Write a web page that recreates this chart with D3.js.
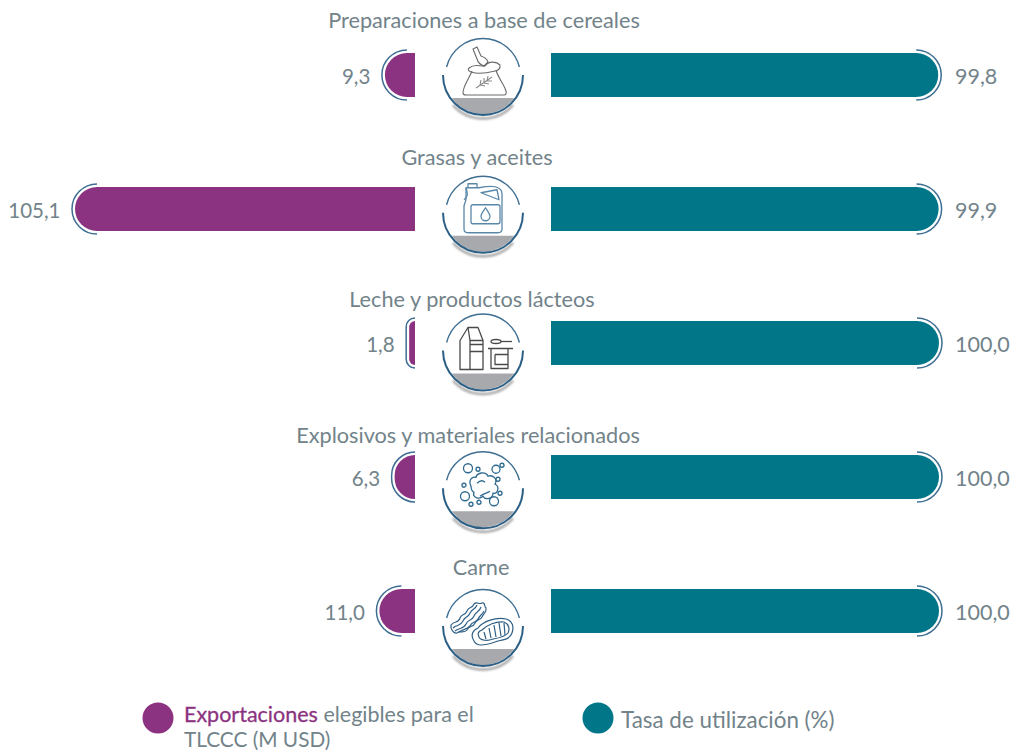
<!DOCTYPE html>
<html><head><meta charset="utf-8">
<script src="https://cdn.jsdelivr.net/npm/d3@7"></script>
<style>html,body{margin:0;padding:0;background:#fff;overflow:hidden}svg{display:block}text{font-family:Lato,"Open Sans",sans-serif;fill:#72838a}</style>
</head><body><div id="c"></div>
<script>
const categories=["Preparaciones a base de cereales","Grasas y aceites","Leche y productos lácteos","Explosivos y materiales relacionados","Carne"];
const exportaciones=[9.3,105.1,1.8,6.3,11.0];
const utilizacion=[99.8,99.9,100.0,100.0,100.0];
const iconKeys=["sack","jug","milk","bubbles","meat"];
const legendExport=["Exportaciones"," elegibles para el","TLCCC (M USD)"];
const legendUse="Tasa de utilización (%)";

// layout only
const W=1011,H=752,PURPLE="#8b3380",TEAL="#007688",ARC="#3e6e91";
const labelLayout=[{x:484,y:28},{x:477,y:165},{x:472,y:307},{x:468,y:443},{x:481,y:575}];

const svg=d3.select("#c").append("svg").attr("width",W).attr("height",H);
const defs=svg.append("defs");
defs.append("filter").attr("id","soft").attr("x","-20%").attr("y","-50%").attr("width","140%").attr("height","200%")
  .append("feGaussianBlur").attr("stdDeviation",1.3);

const y=d3.scalePoint().domain(categories).range([75,611]);
const yIcon=d3.scalePoint().domain(categories).range([76,627]);
const xL=d3.scaleLinear().domain([0,105.1]).range([415,75]);
const xR=d3.scaleLinear().domain([0,100]).range([551,939]);
const fmt=d3.formatLocale({decimal:",",thousands:".",grouping:[3],currency:["",""]}).format(".1f");
const BAR=44,GAP=3;

function leftBar(x0,x1,cy){const w=x1-x0,r=Math.min(BAR/2,w),t=cy-BAR/2,b=cy+BAR/2;
  return `M${x1},${t}H${x0+r}A${r},${r} 0 0 0 ${x0},${t+r}V${b-r}A${r},${r} 0 0 0 ${x0+r},${b}H${x1}Z`;}
function rightBar(x0,x1,cy){const r=BAR/2,t=cy-BAR/2,b=cy+BAR/2;
  return `M${x0},${t}H${x1-r}A${r},${r} 0 0 1 ${x1},${t+r}V${b-r}A${r},${r} 0 0 1 ${x1-r},${b}H${x0}Z`;}
function leftArc(x0,x1,cy){const w=x1-x0,r=Math.min(BAR/2,w),R=r+GAP,cx=x0+r,t=cy-BAR/2-GAP,b=cy+BAR/2+GAP;
  return `M${cx},${t}A${R},${R} 0 0 0 ${cx-R},${t+R}V${b-R}A${R},${R} 0 0 0 ${cx},${b}`;}
function rightArc(x1,cy){const r=BAR/2,R=r+GAP,cx=x1-r,t=cy-BAR/2-GAP,b=cy+BAR/2+GAP;
  return `M${cx},${t}A${R},${R} 0 0 1 ${cx+R},${t+R}V${b-R}A${R},${R} 0 0 1 ${cx},${b}`;}

const rows=svg.selectAll("g.row").data(categories).join("g").attr("class","row");
rows.append("text").text(d=>d).attr("text-anchor","middle").attr("font-size",21.7)
  .attr("x",(d,i)=>labelLayout[i].x).attr("y",(d,i)=>labelLayout[i].y);
rows.append("path").attr("fill",PURPLE).attr("d",(d,i)=>leftBar(xL(exportaciones[i]),xL(0),y(d)));
rows.append("path").attr("fill","none").attr("stroke",ARC).attr("stroke-width",1.5)
  .attr("d",(d,i)=>leftArc(xL(exportaciones[i]),xL(0),y(d)));
rows.append("path").attr("fill",TEAL).attr("d",(d,i)=>rightBar(xR(0),xR(utilizacion[i]),y(d)));
rows.append("path").attr("fill","none").attr("stroke",ARC).attr("stroke-width",1.5)
  .attr("d",(d,i)=>rightArc(xR(utilizacion[i]),y(d)));
rows.append("text").text((d,i)=>fmt(exportaciones[i])).attr("text-anchor","end").attr("font-size",20.5)
  .attr("x",(d,i)=>xL(exportaciones[i])-14.5).attr("y",d=>y(d)+8.5);
rows.append("text").text((d,i)=>fmt(utilizacion[i])).attr("font-size",21.5)
  .attr("x",955).attr("y",d=>y(d)+8.5);

// icon badges
const CX=483;
const badge=rows.append("g").attr("transform",d=>`translate(${CX},${yIcon(d)})`);
badge.append("path").attr("fill","none").attr("stroke","#a0a0a0").attr("stroke-width",2.5).attr("filter","url(#soft)")
  .attr("d","M-30,26A40,40 0 0 0 30,26").attr("transform","translate(0,3)");
badge.append("path").attr("fill","#a7a9ac").attr("d",(()=>{const r=38,yc=22,dx=Math.sqrt(r*r-yc*yc);return `M${-dx},${yc}H${dx}A${r},${r} 0 0 1 ${-dx},${yc}Z`;})());
badge.append("path").attr("fill","none").attr("stroke",ARC).attr("stroke-width",1.4)
  .attr("d","M-36.4,-9A37.5,37.5 0 0 1 36.4,-9");
badge.append("path").attr("fill","none").attr("stroke","#2c5f85").attr("stroke-width",2)
  .attr("d","M-40,-1A40,40 0 0 0 40,-1");

const icons={
 sack(g){const s=g.append("g").attr("fill","none").attr("stroke","#6a6a6a").attr("stroke-width",1.1).attr("stroke-linejoin","round");
  s.append("path").attr("d","M-11,-5C-14,3 -20,10 -20,17Q-20,19 -17,19L21,19Q24,19 23,15C21,8 15,2 13,-6");
  s.append("path").attr("d","M-14,-8C-8,-13 -2,-9 2,-10C6,-16 14,-14 17,-11C18,-7 14,-5 12,-5C4,-3 -6,-2 -12,-4C-15,-5 -15,-7 -14,-8");
  s.append("path").attr("d","M-10,-27L-6,-29L-2,-20C1,-19 4,-17 5,-14L1,-10C-2,-11 -5,-13 -6,-17Z");
  s.append("path").attr("d","M-7,12L9,1M-3,9L-2,4M1,7L1,2M4,5L5,0M-3,9L2,10M1,7L6,8M4,5L9,5").attr("stroke","#8a8a8a");
 },
 jug(g){const s=g.append("g").attr("fill","none").attr("stroke","#5a87a8").attr("stroke-width",1.3).attr("stroke-linejoin","round");
  s.append("path").attr("d","M-15,-26V-30H-6V-26");
  s.append("path").attr("d","M-17,-26H-4C6,-28 12,-28 15,-26Q19,-24 19,-20V15Q19,19 15,19H-15Q-19,19 -19,15V-8L-17,-14Z");
  s.append("path").attr("d","M-2,-21L14,-24L16,-14Z");
  s.append("path").attr("d","M-19,-14C-15,-17 -15,-19 -17,-26");
  s.append("rect").attr("x",-12).attr("y",-9).attr("width",29).attr("height",19).attr("rx",2);
  s.append("path").attr("d","M2.5,-6C5,-2 7,0 7,2.5A4.5,4.5 0 0 1 -2,2.5C-2,0 0,-2 2.5,-6Z");
 },
 milk(g){const s=g.append("g").attr("fill","none").attr("stroke","#4a4a4a").attr("stroke-width",1.3).attr("stroke-linejoin","round");
  s.append("path").attr("d","M-23,-11L-15,-24H-5L0,-11V18H-23Z");
  s.append("path").attr("d","M-15,-24L-13,-11V18M-13,-11H0M-13,-7H0M-13,0H0");
  s.append("ellipse").attr("cx",13).attr("cy",-10).attr("rx",5).attr("ry",2);
  s.append("path").attr("d","M18,-10H29");
  s.append("path").attr("d","M5,-3H30M8,-3V17H25V-3M12,3H25M12,3V13H25");
 },
 bubbles(g){const s=g.append("g").attr("fill","none").attr("stroke","#2f6a8f").attr("stroke-width",1.3);
  s.append("path").attr("d","M-12,-3C-15,-9 -11,-13 -7,-12C-6,-17 3,-18 5,-13C10,-15 15,-10 12,-5C17,-3 15,5 10,4C10,10 2,11 0,7C-4,11 -11,8 -9,3C-11,2 -12,0 -12,-3Z");
  s.append("path").attr("d","M-3,7C1,4 4,4 7,2M-6,-6C-3,-9 0,-9 2,-7");
  [[-15,-21,4.5],[-5,-20,2],[13,-20,4],[19,-24,2],[15,-10,2],[-19,-4,2],[-18,7,4.5],[-12,15,2],[-4,13,2],[11,12,4.5],[17,4,2]]
   .forEach(c=>s.append("circle").attr("cx",c[0]).attr("cy",c[1]).attr("r",c[2]));
 },
 meat(g){const s=g.append("g").attr("fill","none").attr("stroke","#2f5f85").attr("stroke-width",1.2).attr("stroke-linejoin","round");
  s.append("path").attr("d","M-32,-2C-28,-7 -25,-3 -23,-9C-21,-14 -18,-11 -16,-16C-14,-21 -11,-18 -9,-23C-6,-26 -4,-22 -1,-24C2,-25 1,-21 3,-19C4,-15 1,-14 -1,-10C-3,-6 -6,-9 -8,-4C-10,1 -14,-2 -16,3C-19,7 -24,3 -26,6C-29,7 -33,2 -32,-2Z");
  s.append("path").attr("d","M-30,1C-26,-3 -23,0 -20,-6C-18,-11 -15,-9 -13,-14C-10,-19 -8,-17 -6,-22");
  s.append("path").attr("d","M-28,4C-23,0 -20,3 -17,-3C-15,-8 -11,-6 -9,-11C-7,-16 -4,-14 -2,-20");
  s.append("path").attr("d","M-24,5C-20,2 -17,3 -13,-1C-11,-6 -7,-4 -5,-8C-3,-12 -1,-12 1,-16");
  s.append("path").attr("d","M-9,14C-13,8 -10,3 -5,1C0,-6 13,-10 23,-8C30,-6 31,0 29,6C27,12 21,13 15,14C9,16 4,18 -2,18C-5,18 -8,16 -9,14Z");
  s.append("path").attr("d","M-4,10C-6,6 -4,4 -1,3C4,-2 13,-6 21,-5C26,-3 27,2 25,6C22,10 15,11 10,12C5,14 -2,14 -4,10Z");
  s.append("path").attr("d","M1,5L3,12M6,1L8,11M11,-2L13,10M16,-4L18,9M21,-4L22,8");
 }
};
badge.each(function(d,i){icons[iconKeys[i]](d3.select(this));});

// legend
const lg=svg.append("g");
lg.append("circle").attr("cx",158).attr("cy",718).attr("r",15.5).attr("fill",PURPLE);
lg.append("circle").attr("cx",598).attr("cy",718).attr("r",15.5).attr("fill",TEAL);
const t1=lg.append("text").attr("x",184).attr("y",721.5).attr("font-size",21.5);
t1.append("tspan").text(legendExport[0]).attr("style",`fill:${PURPLE};stroke:${PURPLE};stroke-width:.3`);
t1.append("tspan").text(legendExport[1]);
lg.append("text").attr("x",184).attr("y",747.4).attr("font-size",20.8).text(legendExport[2]);
lg.append("text").attr("x",621).attr("y",728).attr("font-size",22.4).text(legendUse);
</script></body></html>
